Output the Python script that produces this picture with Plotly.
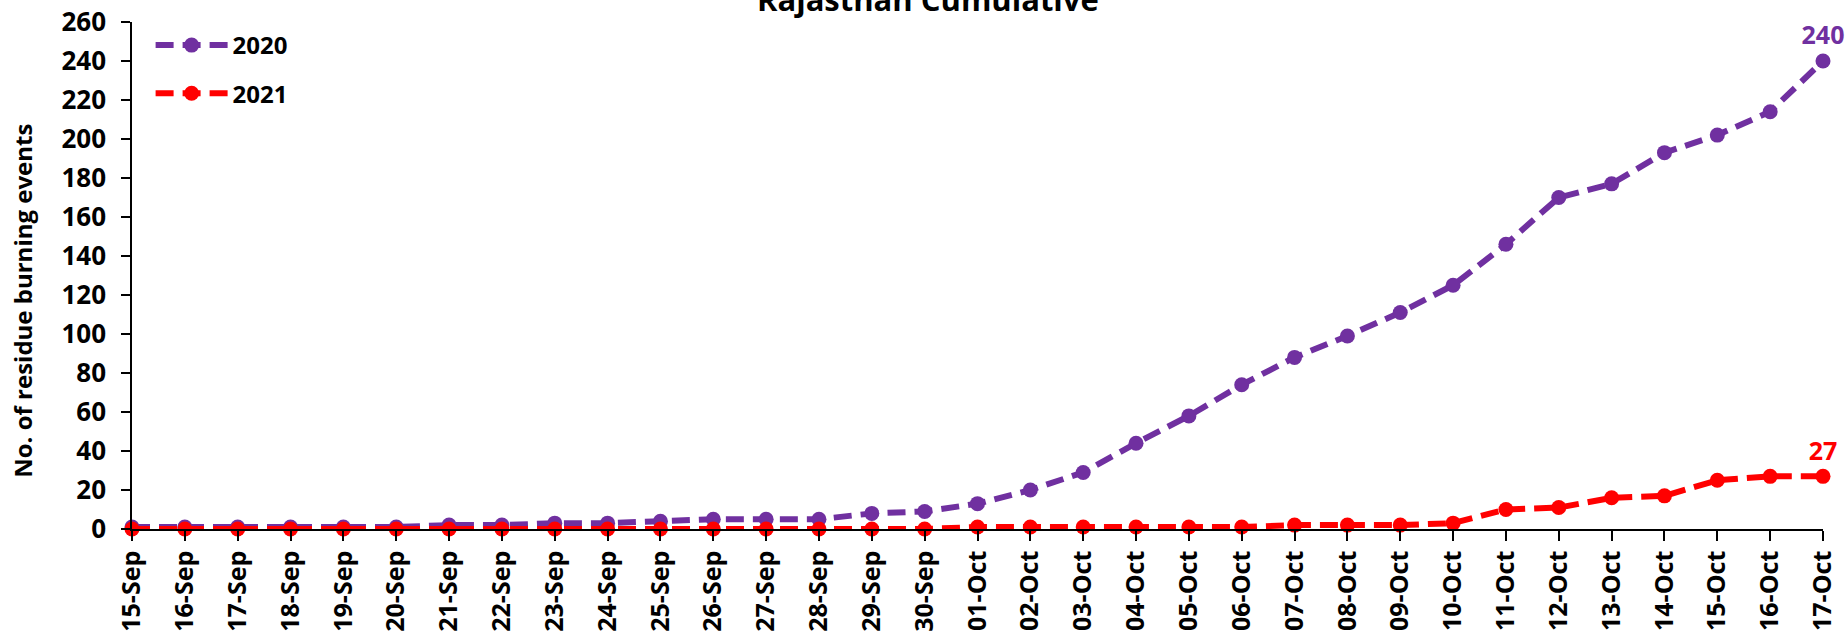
import plotly.graph_objects as go

dates = ['15-Sep', '16-Sep', '17-Sep', '18-Sep', '19-Sep', '20-Sep', '21-Sep', '22-Sep',
         '23-Sep', '24-Sep', '25-Sep', '26-Sep', '27-Sep', '28-Sep', '29-Sep', '30-Sep',
         '01-Oct', '02-Oct', '03-Oct', '04-Oct', '05-Oct', '06-Oct', '07-Oct', '08-Oct',
         '09-Oct', '10-Oct', '11-Oct', '12-Oct', '13-Oct', '14-Oct', '15-Oct', '16-Oct', '17-Oct']
y2020 = [1, 1, 1, 1, 1, 1, 2, 2, 3, 3, 4, 5, 5, 5, 8, 9,
         13, 20, 29, 44, 58, 74, 88, 99, 111, 125, 146, 170, 177, 193, 202, 214, 240]
y2021 = [0, 0, 0, 0, 0, 0, 0, 0, 0, 0, 0, 0, 0, 0, 0, 0,
         1, 1, 1, 1, 1, 1, 2, 2, 2, 3, 10, 11, 16, 17, 25, 27, 27]
series_names = ['2020', '2021']
y_ticks = list(range(0, 261, 20))

PURPLE = '#7030A0'
RED = '#FF0000'
FONT = 'Open Sans'

def last_label(vals):
    return [''] * (len(vals) - 1) + [str(vals[-1])]

fig = go.Figure()
for name, vals, col in [(series_names[0], y2020, PURPLE), (series_names[1], y2021, RED)]:
    fig.add_trace(go.Scatter(
        x=dates, y=vals, name=name, legendgroup=name,
        mode='lines+markers+text',
        line=dict(color=col, width=6, dash='18px,9px'),
        marker=dict(color=col, size=15),
        text=last_label(vals), textposition='top center',
        textfont=dict(family=FONT, size=25, color=col, weight='bold'),
        cliponaxis=False,
    ))

fig.update_layout(
    width=1847, height=637,
    margin=dict(l=132, r=24, t=22, b=108, autoexpand=False),
    paper_bgcolor='white', plot_bgcolor='white',
    font=dict(family=FONT, color='black'),
    showlegend=True,
    legend=dict(x=0.011, y=0.998, xanchor='left', yanchor='top',
                font=dict(family=FONT, size=24, color='black', weight='bold'),
                bgcolor='rgba(0,0,0,0)', traceorder='grouped', tracegroupgap=14,
                itemwidth=72),
    xaxis=dict(
        type='category', range=[0, len(dates) - 1],
        showline=True, linecolor='black', linewidth=1.5,
        ticks='outside', ticklen=10, tickcolor='black', tickwidth=1.5,
        tickangle=-90, showgrid=False, zeroline=False,
        tickfont=dict(family=FONT, size=25, color='black', weight='bold'),
    ),
    yaxis=dict(
        range=[0, 260], tickvals=y_ticks,
        showline=True, linecolor='black', linewidth=1.5,
        ticks='outside', ticklen=9, tickcolor='black', tickwidth=1.5,
        showgrid=False, zeroline=False, ticklabelstandoff=10,
        tickfont=dict(family=FONT, size=26, color='black', weight='bold'),
    ),
    annotations=[
        dict(text='Rajasthan Cumulative', xref='paper', yref='paper', x=0.4707, y=1.046,
             xanchor='center', yanchor='middle', showarrow=False,
             font=dict(family=FONT, size=31, color='black', weight='bold')),
        dict(text='No. of residue burning events', xref='paper', yref='paper',
             x=-0.0645, y=0.45, xanchor='center', yanchor='middle', showarrow=False,
             textangle=-90,
             font=dict(family=FONT, size=24, color='black', weight='bold')),
    ],
)

fig.write_html('out.html', config={'displayModeBar': False},
               post_script="document.body.style.margin='0';document.body.style.overflow='hidden';")
